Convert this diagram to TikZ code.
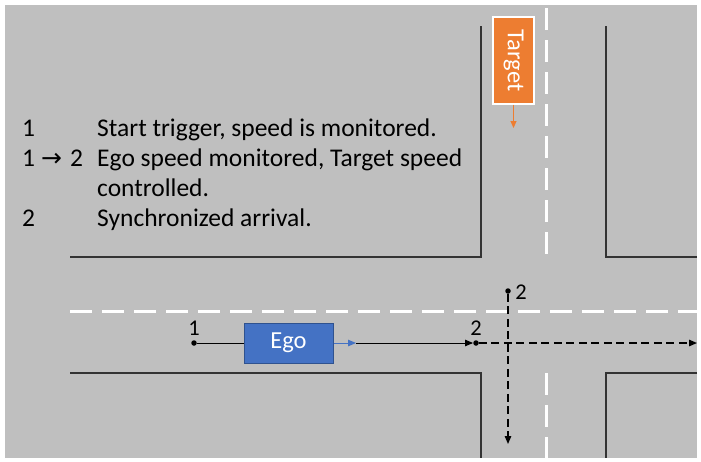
\documentclass[tikz,border=0pt]{standalone}
\usepackage{fontspec}
\setmainfont{Carlito}
\newfontfamily\symfont{DejaVu Sans}
\usetikzlibrary{arrows.meta}
\definecolor{roadgray}{HTML}{BFBFBF}
\definecolor{egoblue}{HTML}{4472C4}
\definecolor{egoedge}{HTML}{2F528F}
\definecolor{targetorange}{HTML}{ED7D31}
\begin{document}
\begin{tikzpicture}[x=1pt,y=-1pt,
  edge/.style={draw=black!80, line width=1.1pt},
  lanemark/.style={draw=white, line width=3pt, dash pattern=on 22pt off 10pt},
  dot/.style={circle, fill=black, inner sep=0pt, minimum size=5.5pt},
  path/.style={draw=black, line width=0.9pt},
  dashedpath/.style={draw=black, line width=1.3pt, dash pattern=on 8pt off 4.5pt},
  tip/.style={-{Triangle[length=8pt,width=6.5pt]}},
  car/.style={minimum width=#1, text=white, inner sep=0pt, font=\fontsize{24.5}{28}\selectfont},
  legend/.style={anchor=base west, inner sep=0pt, font=\fontsize{25.5}{30}\selectfont},
  ptlabel/.style={inner sep=0pt, anchor=base, font=\fontsize{22.5}{26}\selectfont}
]
\useasboundingbox (0,0) rectangle (701,461);
% asphalt
\fill[roadgray] (5,5) rectangle (697,458);

% centre lane markings
\draw[lanemark] (70,311) -- (697,311);
\draw[lanemark] (546,8) -- (546,257);
\draw[lanemark] (546,373) -- (546,458);

% kerbs of the four corner blocks
\draw[edge] (70,257) -| (481,26);
\draw[edge] (697,257) -| (606,26);
\draw[edge] (70,373) -| (481,458);
\draw[edge] (697,373) -| (606,458);

% legend
\node[legend] (n1) at (22,136) {1};
\node[legend] (t1) at (97,136) {Start trigger, speed is monitored.};
\node[legend] (n12a) at (22,166) {1};
\node[legend, font=\symfont\fontsize{25}{28}\selectfont] (n12arrow) at (41,166) {→};
\node[legend] (n12b) at (70,166) {2};
\node[legend] (t12) at (97,166) {Ego speed monitored, Target speed};
\node[legend] (t12b) at (97,196) {controlled.};
\node[legend] (n2) at (22,226) {2};
\node[legend] (t2) at (97,226) {Synchronized arrival.};

% target vehicle
\node[car=41pt, minimum height=87pt, fill=targetorange, draw=white, line width=1.3pt]
  (target) at (513.5,60.5) {};
\node[car=41pt, rotate=-90] (targettext) at (target.center) {Target};
\coordinate (targetgo) at (513.5,128);
\draw[draw=targetorange, line width=1pt, -{Triangle[length=7pt,width=6pt]}] (target.south) -- (targetgo);

% ego vehicle
\node[car=89pt, minimum height=40pt, fill=egoblue, draw=egoedge, line width=1pt]
  (ego) at (288.5,343) {Ego};

% waypoints
\node[dot] (p1) at (194,343) {};
\node[dot] (p2) at (476,343) {};
\node[dot] (q2) at (508,291) {};
\node[ptlabel] (l1) at (194,335) {1};
\node[ptlabel] (l2) at (476,335) {2};
\node[ptlabel] (lq2) at (521,299) {2};

\coordinate (egohead) at (356,343);
\coordinate (egoend) at (697,343);
\coordinate (targetend) at (508,444);

% ego route
\draw[path] (p1) -- (ego.west);
\draw[draw=egoblue, line width=1pt, tip] (ego.east) -- (egohead);
\draw[path, tip] (egohead) -- (p2.west);
\draw[dashedpath, tip] (p2.east) -- (egoend);

% target route
\draw[dashedpath, tip] (q2) -- (targetend);
\end{tikzpicture}
\end{document}
